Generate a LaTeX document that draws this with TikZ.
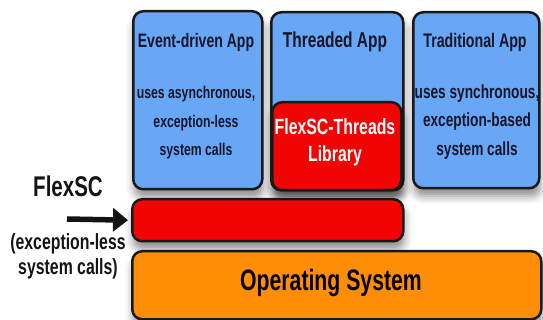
\documentclass[tikz,border=0pt]{standalone}
\usepackage{fontspec}
\setmainfont{Liberation Sans}[FakeStretch=0.72]
\usetikzlibrary{arrows.meta,shadows.blur}

\definecolor{appblue}{RGB}{104,166,246}
\definecolor{libred}{RGB}{242,4,4}
\definecolor{osorange}{RGB}{255,142,6}
\definecolor{inkdark}{RGB}{22,22,44}

\tikzset{
  layer/.style={draw=black!90, line width=2.5pt, rounded corners=10pt,
    anchor=north west, inner sep=0pt,
    blur shadow={shadow xshift=1pt, shadow yshift=-8pt,
      shadow blur radius=8pt, shadow opacity=45}},
  label text/.style={text=inkdark, align=center, inner sep=0pt},
  bigarrow/.style={line width=5.5pt, -{Triangle[length=15pt,width=23pt]}, shorten >=3pt}
}

\begin{document}
\begin{tikzpicture}[x=1pt, y=-1pt]
\useasboundingbox (0,0) rectangle (543,320);

% application boxes
\node[layer, fill=appblue, minimum width=129pt, minimum height=178pt] (evbox) at (132,10) {};
\node[layer, fill=appblue, minimum width=132pt, minimum height=178pt] (thbox) at (270,11) {};
\node[layer, fill=libred, minimum width=129pt, minimum height=88pt] (libbox) at (271,101) {};
\node[layer, fill=appblue, minimum width=126pt, minimum height=176pt] (trbox) at (412,11) {};

% kernel layers
\node[layer, fill=libred, minimum width=271pt, minimum height=42pt] (scbar) at (131,198) {};
\node[layer, fill=osorange, minimum width=409pt, minimum height=68pt] (osbox) at (131,250) {};

% texts of the application boxes
\node[label text, font=\fontsize{19.5}{22}\selectfont\bfseries] (evtitle) at (196,42) {Event-driven App};
\node[label text, font=\fontsize{17}{28.5}\selectfont\bfseries] (evdesc) at (196,123)
  {uses asynchronous,\\exception-less\\system calls};

\node[label text, font=\fontsize{21.5}{24}\selectfont\bfseries] (thtitle) at (335,42) {Threaded App};
\node[label text, text=white, font=\fontsize{22}{27}\selectfont\bfseries] (libtext) at (335,142)
  {FlexSC-Threads\\Library};

\node[label text, font=\fontsize{19.7}{22}\selectfont\bfseries] (trtitle) at (475,42) {Traditional App};
\node[label text, font=\fontsize{19}{28.5}\selectfont\bfseries] (trdesc) at (477,122)
  {uses synchronous,\\exception-based\\system calls};

\node[label text, text=black!90!inkdark, font=\fontsize{29.5}{32}\selectfont\bfseries] (ostext) at (331,283) {Operating System};

% FlexSC label and arrow
\node[label text, text=black!92, font=\fontsize{28.5}{30}\selectfont\bfseries] (flexsc) at (68,186) {FlexSC};
\coordinate (arrtail) at (67,219);
\draw[bigarrow, black!92] (arrtail) -- (scbar.west);
\node[label text, text=black!92, font=\fontsize{22}{25}\selectfont\bfseries] (flexnote) at (68,256)
  {(exception-less\\system calls)};
\end{tikzpicture}
\end{document}
